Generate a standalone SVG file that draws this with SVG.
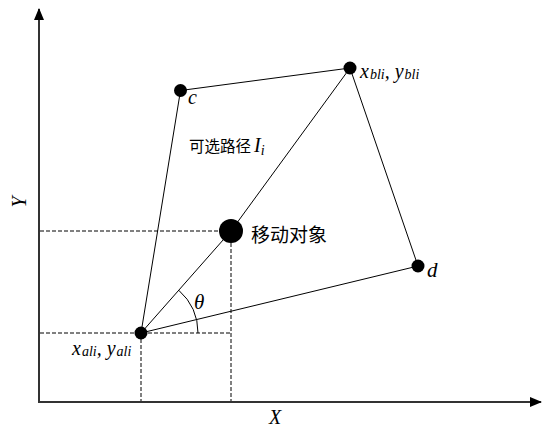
<svg xmlns="http://www.w3.org/2000/svg" width="549" height="427" viewBox="0 0 549 427">
<style>
.axis{stroke:#333;stroke-width:2;fill:none}
.edge{stroke:#000;stroke-width:1;fill:none}
.dash{stroke:#000;stroke-width:1;fill:none;stroke-dasharray:4,2}
.pt{fill:#000}
.math{font-family:"Liberation Serif","Times New Roman",serif;font-style:italic;fill:#000}
.sub{font-size:14px}
.cn{font-family:"Noto Sans CJK SC","Noto Sans",sans-serif;fill:#000}
</style>
<defs>
<marker id="arr" markerWidth="12" markerHeight="10" refX="11" refY="5" orient="auto" markerUnits="userSpaceOnUse">
<path d="M0,0 L12,5 L0,10 Z" fill="#000"/>
</marker>
</defs>
<g id="axes">
<line class="axis" x1="39" y1="402" x2="39" y2="9" marker-end="url(#arr)"/>
<line class="axis" x1="38" y1="402" x2="541" y2="402" marker-end="url(#arr)"/>
<text class="math" x="275" y="424" font-size="20" text-anchor="middle">X</text>
<text class="math" x="0" y="0" font-size="20" text-anchor="middle" transform="translate(26,202) rotate(-90)">Y</text>
</g>
<g id="connectors">
<line class="dash" x1="40" y1="333" x2="231" y2="333"/>
<line class="dash" x1="141" y1="333" x2="141" y2="401"/>
<line class="dash" x1="40" y1="231" x2="231" y2="231"/>
<line class="dash" x1="231" y1="231" x2="231" y2="401"/>
<line class="edge" x1="141" y1="333" x2="180.5" y2="90.5"/>
<line class="edge" x1="180.5" y1="90.5" x2="350" y2="68"/>
<line class="edge" x1="350" y1="68" x2="418" y2="266"/>
<line class="edge" x1="418" y1="266" x2="141" y2="333"/>
<polyline class="edge" points="141,333 231,231 350,68"/>
<path class="edge" d="M178.7,290.2 A57,57 0 0 1 198,333"/>
<text class="math" x="194" y="309" font-size="21">θ</text>
</g>
<g id="node-a">
<circle class="pt" cx="141" cy="333" r="6.5"/>
<text class="math" x="72" y="355" font-size="20">x<tspan class="sub" dx="1" dy="1">ali</tspan><tspan dy="-1">, y</tspan><tspan class="sub" dx="1" dy="1">ali</tspan></text>
</g>
<g id="node-c">
<circle class="pt" cx="180.5" cy="90.5" r="6.5"/>
<text class="math" x="188" y="104" font-size="20">c</text>
</g>
<g id="node-b">
<circle class="pt" cx="350" cy="68" r="6.5"/>
<text class="math" x="360" y="78" font-size="20">x<tspan class="sub" dx="1" dy="1">bli</tspan><tspan dy="-1">, y</tspan><tspan class="sub" dx="1" dy="1">bli</tspan></text>
</g>
<g id="node-d">
<circle class="pt" cx="418" cy="266" r="6.5"/>
<text class="math" x="427" y="277" font-size="21">d</text>
</g>
<g id="node-object">
<circle class="pt" cx="231" cy="231" r="12"/>
<text class="cn" x="251" y="242" font-size="19">移动对象</text>
</g>
<g id="label-path">
<text class="cn" x="189" y="152" font-size="15.5">可选路径<tspan class="math" font-size="20" dx="3">I</tspan><tspan class="math sub" dy="3">i</tspan></text>
</g>
</svg>
